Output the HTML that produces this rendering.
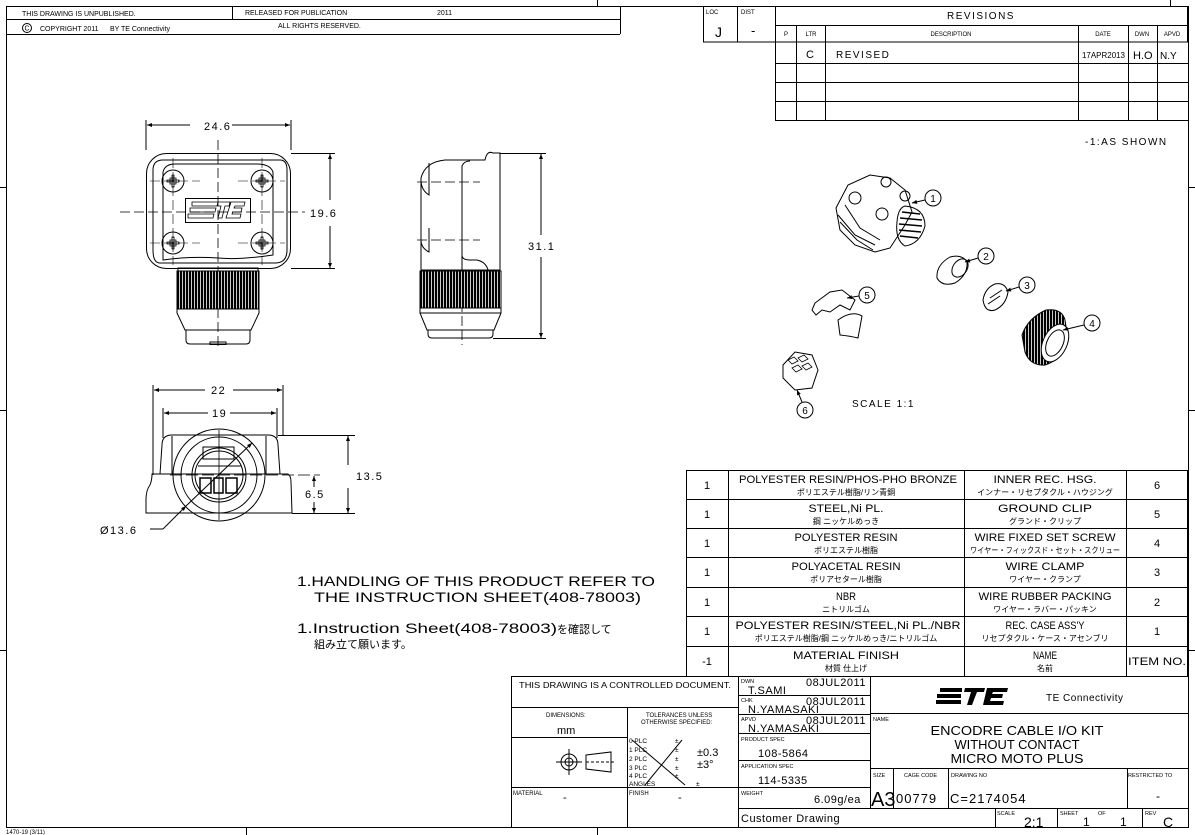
<!DOCTYPE html>
<html><head><meta charset="utf-8"><style>
html,body{margin:0;padding:0;background:#fff}
svg{display:block}
text{font-family:"Liberation Sans","Noto Sans CJK JP",sans-serif;fill:#000}
.t{font-size:8px}
.m{font-size:12px;letter-spacing:1.5px}
.j{font-size:9px;font-family:"Liberation Sans","Noto Sans CJK JP",sans-serif}
</style></head><body>
<svg width="1195" height="835" viewBox="0 0 1195 835" xmlns="http://www.w3.org/2000/svg">
<defs>
<pattern id="kn" width="3" height="10" patternUnits="userSpaceOnUse"><rect width="3" height="10" fill="#000"/><rect x="2" width="0.8" height="10" fill="#fff"/></pattern>
<marker id="a" viewBox="0 0 10 10" refX="10" refY="5" markerWidth="9" markerHeight="5" orient="auto-start-reverse"><path d="M0,1 L10,5 L0,9 z" fill="#000"/></marker>
</defs>
<g fill="none" stroke="#000" stroke-width="1">
<rect x="6.5" y="6.5" width="1182" height="821"/>
<line x1="597.5" y1="0" x2="597.5" y2="6"/><line x1="1170.5" y1="0" x2="1170.5" y2="6"/>
<line x1="0" y1="187.5" x2="6" y2="187.5"/><line x1="0" y1="410.5" x2="6" y2="410.5"/><line x1="0" y1="650.5" x2="6" y2="650.5"/>
<line x1="1189" y1="187.5" x2="1195" y2="187.5"/><line x1="1189" y1="410.5" x2="1195" y2="410.5"/><line x1="1189" y1="650.5" x2="1195" y2="650.5"/>
<line x1="597.5" y1="828" x2="597.5" y2="835"/><line x1="246.5" y1="828" x2="246.5" y2="835"/>
<line x1="6" y1="19.5" x2="620" y2="19.5"/><line x1="6" y1="34.5" x2="620" y2="34.5"/>
<line x1="620.5" y1="6" x2="620.5" y2="34"/><line x1="232.5" y1="6" x2="232.5" y2="19"/>
<circle cx="27" cy="28" r="4.5"/>
<rect x="703.5" y="6.5" width="484" height="35.5"/>
<line x1="737.5" y1="6" x2="737.5" y2="42"/><line x1="775.5" y1="6" x2="775.5" y2="120"/>
<line x1="775" y1="25.5" x2="1188" y2="25.5"/>
<line x1="775" y1="63.5" x2="1188" y2="63.5"/><line x1="775" y1="82.5" x2="1188" y2="82.5"/><line x1="775" y1="101.5" x2="1188" y2="101.5"/><line x1="775" y1="120.5" x2="1188" y2="120.5"/>
<line x1="796.5" y1="25" x2="796.5" y2="120"/><line x1="825.5" y1="25" x2="825.5" y2="120"/><line x1="1078.5" y1="25" x2="1078.5" y2="120"/><line x1="1128.5" y1="25" x2="1128.5" y2="120"/><line x1="1157.5" y1="25" x2="1157.5" y2="120"/>
<rect x="686.5" y="470.5" width="501" height="206"/>
<line x1="728.5" y1="470" x2="728.5" y2="676"/><line x1="964.5" y1="470" x2="964.5" y2="676"/><line x1="1126.5" y1="470" x2="1126.5" y2="676"/>
<line x1="686" y1="499.5" x2="1188" y2="499.5"/><line x1="686" y1="528.5" x2="1188" y2="528.5"/><line x1="686" y1="557.5" x2="1188" y2="557.5"/><line x1="686" y1="587.5" x2="1188" y2="587.5"/><line x1="686" y1="616.5" x2="1188" y2="616.5"/><line x1="686" y1="646.5" x2="1188" y2="646.5"/>
<rect x="511.5" y="676.5" width="677" height="151"/>
<line x1="511" y1="707.5" x2="738" y2="707.5"/>
<line x1="627.5" y1="707" x2="627.5" y2="828"/>
<line x1="511" y1="737.5" x2="627" y2="737.5"/>
<line x1="511" y1="787.5" x2="738" y2="787.5"/>
<line x1="738.5" y1="676" x2="738.5" y2="828"/>
<line x1="870.5" y1="676" x2="870.5" y2="808"/>
<line x1="738" y1="695.5" x2="870" y2="695.5"/><line x1="738" y1="714.5" x2="870" y2="714.5"/><line x1="738" y1="733.5" x2="870" y2="733.5"/><line x1="738" y1="760.5" x2="870" y2="760.5"/><line x1="738" y1="787.5" x2="870" y2="787.5"/>
<line x1="738" y1="808.5" x2="1189" y2="808.5"/>
<line x1="870" y1="713.5" x2="1189" y2="713.5"/><line x1="870" y1="768.5" x2="1189" y2="768.5"/>
<line x1="893.5" y1="768" x2="893.5" y2="808"/><line x1="948.5" y1="768" x2="948.5" y2="808"/><line x1="1127.5" y1="768" x2="1127.5" y2="808"/>
<line x1="995.5" y1="808" x2="995.5" y2="828"/><line x1="1057.5" y1="808" x2="1057.5" y2="828"/><line x1="1142.5" y1="808" x2="1142.5" y2="828"/>
<circle cx="569" cy="762" r="8"/><circle cx="569" cy="762" r="4"/><line x1="556" y1="762" x2="582" y2="762"/><line x1="569" y1="749" x2="569" y2="775"/>
<path d="M586,755 L611,752 L611,772 L586,769 Z"/><line x1="586" y1="762" x2="615" y2="762" stroke-dasharray="3,2"/>
<line x1="632" y1="740" x2="685" y2="785"/><line x1="682" y1="740" x2="645" y2="785"/>
<g fill="#000" stroke="none"><rect x="940" y="688" width="22" height="4"/><rect x="937" y="694" width="24" height="4"/><rect x="936" y="700" width="25" height="4"/>
<path d="M965,688 L985,688 L984,692 L977,692 L972,705 L967,705 L971,692 L964,692Z"/><path d="M987,688 L1008,688 L1007,692 L993,692 L992,694 L1003,694 L1002,698 L991,698 L990,701 L1004,701 L1003,705 L983,705Z"/></g>

<line x1="146" y1="120" x2="146" y2="150"/><line x1="291" y1="120" x2="291" y2="150"/>
<line x1="147" y1="125" x2="190" y2="125" marker-start="url(#a)"/><line x1="232" y1="125" x2="290" y2="125" marker-end="url(#a)"/>
<rect x="146.5" y="153.5" width="144" height="115" rx="20"/>
<path d="M153,250 L153,170 Q153,160 163,160 L280,160 Q287,160 287,170 L287,250 Q287,263 275,263 L160,263 Q153,263 153,250Z"/>
<path d="M163,260 L163,172 Q165,164 175,164 L257,164 Q270,164 273,172 L273,255 Q240,260 218,258 Q190,256 163,260Z"/>
<g><circle cx="173" cy="181" r="11"/><circle cx="262" cy="181" r="11"/><circle cx="173" cy="243" r="11"/><circle cx="262" cy="243" r="11"/></g>
<g stroke-width="0.8"><path d="M170,178h6v6h-6z M172,175h2v12h-2z M167,180h12v2h-12z"/><path d="M259,178h6v6h-6z M261,175h2v12h-2z M256,180h12v2h-12z"/><path d="M170,240h6v6h-6z M172,237h2v12h-2z M167,242h12v2h-12z"/><path d="M259,240h6v6h-6z M261,237h2v12h-2z M256,242h12v2h-12z"/></g>
<rect x="185.5" y="198.5" width="65" height="24"/>
<path d="M192,202h26l-1,4h-25z M190,208h26l-1,4h-25z M188,214h26l-1,4h-25z M218,202h12l-1,4h-4l-3,12h-4l3-12h-4z M231,202h14l-1,4h-9l-1,2h8l-1,4h-8l-1,2h9l-1,4h-14z" stroke-width="0.8"/>
<line x1="120" y1="212" x2="305" y2="212" stroke-dasharray="10,4" stroke-width="0.8"/>
<line x1="218" y1="140" x2="218" y2="350" stroke-dasharray="10,4" stroke-width="0.8"/>
<line x1="150" y1="181" x2="200" y2="181" stroke-dasharray="10,4" stroke-width="0.6"/><line x1="238" y1="181" x2="285" y2="181" stroke-dasharray="10,4" stroke-width="0.6"/>
<line x1="150" y1="243" x2="200" y2="243" stroke-dasharray="10,4" stroke-width="0.6"/><line x1="238" y1="243" x2="285" y2="243" stroke-dasharray="10,4" stroke-width="0.6"/>
<line x1="173" y1="158" x2="173" y2="265" stroke-dasharray="10,4" stroke-width="0.6"/><line x1="262" y1="158" x2="262" y2="265" stroke-dasharray="10,4" stroke-width="0.6"/>
<rect x="178" y="268" width="80" height="3"/>
<rect x="177" y="271" width="82" height="38" fill="url(#kn)"/>
<path d="M177,309 L259,309 L259,313 L251,330 L185,330 L177,313Z"/>
<path d="M186,330 L250,330 L250,340 Q250,344 246,344 L190,344 Q186,344 186,340Z"/>
<rect x="210" y="342" width="16" height="2.5"/>
<line x1="291" y1="153.5" x2="335" y2="153.5"/><line x1="291" y1="268.5" x2="335" y2="268.5"/>
<line x1="330" y1="154" x2="330" y2="200" marker-start="url(#a)"/><line x1="330" y1="226" x2="330" y2="268" marker-end="url(#a)"/>

<path d="M421,270 L421,178 Q425,162 445,160 L485,160 Q487,150 493,153 L500,153 L500,270 Z"/>
<path d="M462,270 L462,166 Q464,161 470,161"/>
<path d="M488,270 Q486,262 477,260 L470,260 Q462,260 462,255"/>
<path d="M429,163 L429,195 Q421,190 421,180"/><path d="M429,228 L429,252 Q421,248 421,240"/>
<line x1="417" y1="182" x2="480" y2="182" stroke-dasharray="10,4" stroke-width="0.8"/><line x1="417" y1="240" x2="480" y2="240" stroke-dasharray="10,4" stroke-width="0.8"/>
<line x1="462" y1="260" x2="462" y2="345" stroke-dasharray="10,4" stroke-width="0.8"/>
<rect x="420" y="271" width="81" height="37" fill="url(#kn)"/>
<path d="M420,308 L501,308 L501,313 L494,330 L427,330 L420,313Z"/><line x1="420" y1="313" x2="501" y2="313"/>
<path d="M428,330 L493,330 L493,334 Q493,338 489,338 L432,338 Q428,338 428,334Z"/>
<line x1="500" y1="153.5" x2="546" y2="153.5"/><line x1="493" y1="338.5" x2="546" y2="338.5"/>
<line x1="541" y1="154" x2="541" y2="235" marker-start="url(#a)"/><line x1="541" y1="257" x2="541" y2="338" marker-end="url(#a)"/>

<line x1="153" y1="385" x2="153" y2="475"/><line x1="283" y1="385" x2="283" y2="435"/>
<line x1="154" y1="390" x2="205" y2="390" marker-start="url(#a)"/><line x1="233" y1="390" x2="282" y2="390" marker-end="url(#a)"/>
<line x1="163" y1="408" x2="163" y2="438"/><line x1="277" y1="408" x2="277" y2="438"/>
<line x1="164" y1="413" x2="208" y2="413" marker-start="url(#a)"/><line x1="230" y1="413" x2="276" y2="413" marker-end="url(#a)"/>
<path d="M160,474 L162,445 Q162,435 172,435 L268,435 Q278,435 278,445 L280,474"/>
<line x1="172" y1="436" x2="172" y2="474"/><line x1="266" y1="436" x2="266" y2="474"/>
<path d="M152,474 L288,474 Q291,476 291,482 L292,513 L146,513 L146,500 Q146,490 150,485 Q152,480 152,474Z"/>
<circle cx="219" cy="475" r="46"/><circle cx="219" cy="475" r="38"/><circle cx="219" cy="475" r="27"/><circle cx="219" cy="475" r="24"/>
<rect x="203" y="447" width="31" height="12"/>
<line x1="198" y1="466" x2="241" y2="466"/>
<g stroke-width="1.5"><rect x="200" y="478" width="11" height="15"/><rect x="214" y="478" width="9" height="15"/><rect x="226" y="478" width="11" height="15"/></g>
<line x1="170" y1="475" x2="320" y2="475" stroke-dasharray="12,4" stroke-width="0.8"/>
<line x1="219" y1="430" x2="219" y2="520" stroke-width="0.8"/>
<line x1="292" y1="513.5" x2="355" y2="513.5"/><line x1="278" y1="435.5" x2="355" y2="435.5"/>
<line x1="348" y1="436" x2="348" y2="465" marker-start="url(#a)"/><line x1="348" y1="488" x2="348" y2="513" marker-end="url(#a)"/>
<line x1="314" y1="476" x2="314" y2="487" marker-start="url(#a)"/><line x1="314" y1="502" x2="314" y2="513" marker-end="url(#a)"/>
<line x1="150" y1="529" x2="163" y2="529"/><line x1="163" y1="529" x2="186" y2="506" marker-end="url(#a)"/><line x1="186" y1="506" x2="252" y2="443" marker-end="url(#a)"/>

<g stroke-width="1">
<path d="M836,208 L848,185 L870,175 L890,178 L905,190 L912,212 L905,225 L890,248 L875,252 L855,245 L840,230 Z"/>
<path d="M838,215 L855,235 L875,245 M840,222 L857,240 L873,250 M845,205 L860,228 L880,240"/>
<circle cx="855" cy="198" r="6"/><circle cx="882" cy="214" r="6"/><circle cx="886" cy="182" r="5"/><circle cx="905" cy="196" r="5"/>
<path d="M905,206 Q925,208 925,226 Q920,244 905,246 Q895,240 897,222 Q898,208 905,206Z"/>
<path d="M902,212 L920,214 M900,218 L922,220 M899,224 L922,226 M899,230 L921,232 M900,236 L918,238" stroke-width="1.5"/>
<path d="M937,278 Q936,265 950,257 Q962,254 967,262 Q968,275 955,283 Q942,287 937,278Z"/><ellipse cx="960" cy="268" rx="7" ry="10" transform="rotate(35 960 268)"/>
<path d="M983,300 Q985,288 995,284 Q1005,282 1008,292 Q1006,305 995,310 Q985,313 983,300Z"/><path d="M990,298 L1002,290 M988,304 L1000,296"/>
<path d="M1022,335 Q1028,318 1046,310 Q1062,308 1065,320 L1068,340 Q1062,360 1045,365 Q1030,366 1025,352 Z" fill="url(#kn)"/>
<ellipse cx="1055" cy="343" rx="12" ry="20" transform="rotate(25 1055 343)" fill="#fff"/><ellipse cx="1055" cy="343" rx="8" ry="14" transform="rotate(25 1055 343)"/>
<path d="M815,303 L830,292 L842,290 L855,300 L850,310 L840,305 L830,312 L822,310 L816,315 L812,310 Z"/>
<path d="M838,320 Q852,310 862,316 L858,338 Q850,336 840,335 Z"/>
<path d="M783,365 L795,352 L812,355 L818,370 L812,388 L795,390 L783,378 Z"/>
<path d="M788,360 l6,-3 l4,4 l-6,3z M798,358 l6,-3 l4,4 l-6,3z M792,368 l6,-3 l4,4 l-6,3z M802,366 l6,-3 l4,4 l-6,3z" stroke-width="0.8"/>
</g>
<g stroke-width="1">
<circle cx="933" cy="198" r="8"/><line x1="925" y1="200" x2="912" y2="203" marker-end="url(#a)"/>
<circle cx="986" cy="256" r="8"/><line x1="978" y1="258" x2="965" y2="262" marker-end="url(#a)"/>
<circle cx="1027" cy="285" r="8"/><line x1="1019" y1="287" x2="1006" y2="291" marker-end="url(#a)"/>
<circle cx="1092" cy="323" r="8"/><line x1="1084" y1="325" x2="1063" y2="330" marker-end="url(#a)"/>
<circle cx="867" cy="295" r="8"/><line x1="859" y1="296" x2="847" y2="298" marker-end="url(#a)"/>
<circle cx="805" cy="410" r="8"/><line x1="802" y1="402" x2="797" y2="390" marker-end="url(#a)"/>
</g>
</g>

<text class="t" x="22" y="16" style="font-size:7px">THIS DRAWING IS UNPUBLISHED.</text>
<text class="t" x="245" y="15" style="font-size:7px">RELEASED FOR PUBLICATION</text>
<text class="t" x="437" y="15" style="font-size:7px">2011</text>
<text class="t" x="24.5" y="30.5" style="font-size:7px">C</text>
<text class="t" x="40" y="31" style="font-size:7px">COPYRIGHT 2011</text>
<text class="t" x="110" y="31" style="font-size:7px">BY TE Connectivity</text>
<text class="t" x="278" y="28" style="font-size:7px">ALL RIGHTS RESERVED.</text>

<text class="t" x="706" y="14" style="font-size:6px">LOC</text><text class="t" x="741" y="14" style="font-size:6px">DIST</text>
<text x="715" y="37" style="font-size:14px">J</text><text x="751" y="35" style="font-size:13px">-</text>
<text x="981" y="19" class="m" text-anchor="middle" style="font-size:10px">REVISIONS</text>
<text class="t" x="786" y="36" text-anchor="middle" style="font-size:6px">P</text><text class="t" x="811" y="36" text-anchor="middle" style="font-size:6px">LTR</text>
<text class="t" x="951" y="36" text-anchor="middle" style="font-size:6px">DESCRIPTION</text><text class="t" x="1103" y="36" text-anchor="middle" style="font-size:6px">DATE</text>
<text class="t" x="1142" y="36" text-anchor="middle" style="font-size:6px">DWN</text><text class="t" x="1172" y="36" text-anchor="middle" style="font-size:6px">APVD</text>
<text x="806" y="58" style="font-size:11px">C</text><text x="836" y="58" class="m" style="font-size:10px">REVISED</text>
<text x="1082" y="58" style="font-size:8px" textLength="43" lengthAdjust="spacingAndGlyphs">17APR2013</text><text x="1133" y="59" style="font-size:11px">H.O</text><text x="1160" y="59" style="font-size:10px">N.Y</text>
<text x="1085" y="145" class="m" style="font-size:10px">-1:AS SHOWN</text>

<text class="m" x="204" y="130" style="font-size:11px">24.6</text>
<text class="m" x="310" y="217" style="font-size:11px">19.6</text>
<text class="m" x="528" y="250" style="font-size:11px">31.1</text>
<text class="m" x="211" y="394" style="font-size:11px">22</text>
<text class="m" x="212" y="417" style="font-size:11px">19</text>
<text class="m" x="356" y="480" style="font-size:11px">13.5</text>
<text class="m" x="305" y="498" style="font-size:11px">6.5</text>
<text class="m" x="100" y="534" style="font-size:11px">Ø13.6</text>

<text x="297" y="586" style="font-size:14px" textLength="358" lengthAdjust="spacingAndGlyphs">1.HANDLING OF THIS PRODUCT REFER TO</text>
<text x="314" y="602" style="font-size:14px" textLength="327" lengthAdjust="spacingAndGlyphs">THE INSTRUCTION SHEET(408-78003)</text>
<text x="297" y="633" style="font-size:14px" textLength="260" lengthAdjust="spacingAndGlyphs">1.Instruction Sheet(408-78003)</text>
<text class="j" x="557" y="633" style="font-size:11px">を確認して</text>
<text class="j" x="314" y="648" style="font-size:11px">組み立て願います。</text>

<text x="852" y="407" class="m" style="font-size:10px">SCALE  1:1</text>
<g text-anchor="middle" style="font-size:10px"><text x="933" y="202">1</text><text x="986" y="260">2</text><text x="1027" y="289">3</text><text x="1092" y="327">4</text><text x="867" y="299">5</text><text x="805" y="414">6</text></g>

<g text-anchor="middle">
<text x="707" y="489" style="font-size:11px">1</text><text x="707" y="518" style="font-size:11px">1</text><text x="707" y="547" style="font-size:11px">1</text><text x="707" y="576" style="font-size:11px">1</text><text x="707" y="606" style="font-size:11px">1</text><text x="707" y="635" style="font-size:11px">1</text><text x="707" y="665" style="font-size:11px">-1</text>
<text x="1157" y="489" style="font-size:11px">6</text><text x="1157" y="518" style="font-size:11px">5</text><text x="1157" y="547" style="font-size:11px">4</text><text x="1157" y="576" style="font-size:11px">3</text><text x="1157" y="606" style="font-size:11px">2</text><text x="1157" y="635" style="font-size:11px">1</text><text x="1157" y="665" style="font-size:11px" textLength="58" lengthAdjust="spacingAndGlyphs">ITEM NO.</text>
<g style="font-size:11px" lengthAdjust="spacingAndGlyphs">
<text x="848" y="483" textLength="218" lengthAdjust="spacingAndGlyphs">POLYESTER RESIN/PHOS-PHO BRONZE</text><text x="846" y="512" textLength="75" lengthAdjust="spacingAndGlyphs">STEEL,Ni PL.</text><text x="846" y="541" textLength="103" lengthAdjust="spacingAndGlyphs">POLYESTER RESIN</text><text x="846" y="570" textLength="109" lengthAdjust="spacingAndGlyphs">POLYACETAL RESIN</text><text x="846" y="600" textLength="20" lengthAdjust="spacingAndGlyphs">NBR</text><text x="848" y="629" textLength="225" lengthAdjust="spacingAndGlyphs">POLYESTER RESIN/STEEL,Ni PL./NBR</text><text x="846" y="659" textLength="106" lengthAdjust="spacingAndGlyphs">MATERIAL FINISH</text>
<text x="1045" y="483" textLength="103" lengthAdjust="spacingAndGlyphs">INNER REC. HSG.</text><text x="1045" y="512" textLength="94" lengthAdjust="spacingAndGlyphs">GROUND CLIP</text><text x="1045" y="541" textLength="141" lengthAdjust="spacingAndGlyphs">WIRE FIXED SET SCREW</text><text x="1045" y="570" textLength="79" lengthAdjust="spacingAndGlyphs">WIRE CLAMP</text><text x="1045" y="600" textLength="133" lengthAdjust="spacingAndGlyphs">WIRE RUBBER PACKING</text><text x="1045" y="629" textLength="79" lengthAdjust="spacingAndGlyphs">REC. CASE ASS'Y</text><text x="1045" y="659" textLength="24" lengthAdjust="spacingAndGlyphs">NAME</text>
</g>
<g class="j" style="font-size:8px">
<text x="846" y="495">ポリエステル樹脂/リン青銅</text><text x="846" y="524">鋼 ニッケルめっき</text><text x="846" y="553">ポリエステル樹脂</text><text x="846" y="582">ポリアセタール樹脂</text><text x="846" y="612">ニトリルゴム</text><text x="846" y="641">ポリエステル樹脂/鋼 ニッケルめっき/ニトリルゴム</text><text x="846" y="671">材質  仕上げ</text>
<text x="1045" y="495">インナー・リセプタクル・ハウジング</text><text x="1045" y="524">グランド・クリップ</text><text x="1045" y="553" textLength="150" lengthAdjust="spacingAndGlyphs">ワイヤー・フィックスド・セット・スクリュー</text><text x="1045" y="582">ワイヤー・クランプ</text><text x="1045" y="612">ワイヤー・ラバー・パッキン</text><text x="1045" y="641">リセプタクル・ケース・アセンブリ</text><text x="1045" y="671">名前</text>
</g>
</g>

<text x="519" y="688" style="font-size:8px" textLength="212" lengthAdjust="spacingAndGlyphs">THIS DRAWING IS A CONTROLLED DOCUMENT.</text>
<text x="546" y="717" style="font-size:6px">DIMENSIONS:</text><text x="557" y="734" style="font-size:11px">mm</text>
<text x="646" y="717" style="font-size:6px">TOLERANCES UNLESS</text><text x="641" y="724" style="font-size:6px">OTHERWISE SPECIFIED:</text>
<g style="font-size:6.5px"><text x="629" y="743">0 PLC</text><text x="629" y="752">1 PLC</text><text x="629" y="761">2 PLC</text><text x="629" y="770">3 PLC</text><text x="629" y="778">4 PLC</text><text x="629" y="786">ANGLES</text>
<text x="675" y="743">±</text><text x="675" y="752">±</text><text x="675" y="761">±</text><text x="675" y="770">±</text><text x="675" y="778">±</text><text x="696" y="786">±</text></g>
<text x="697" y="756" style="font-size:11px">±0.3</text><text x="697" y="768" style="font-size:11px">±3°</text>
<text x="513" y="795" style="font-size:6px">MATERIAL</text><text x="563" y="801" style="font-size:11px">-</text>
<text x="629" y="795" style="font-size:6px">FINISH</text><text x="678" y="801" style="font-size:11px">-</text>
<g style="font-size:5.5px"><text x="741" y="683">DWN</text><text x="741" y="702">CHK</text><text x="741" y="721">APVD</text><text x="741" y="741">PRODUCT SPEC</text><text x="741" y="768">APPLICATION SPEC</text><text x="741" y="795">WEIGHT</text><text x="873" y="721">NAME</text><text x="873" y="777">SIZE</text><text x="904" y="777">CAGE CODE</text><text x="951" y="777">DRAWING NO</text><text x="1128" y="777">RESTRICTED TO</text><text x="997" y="815">SCALE</text><text x="1060" y="815">SHEET</text><text x="1098" y="815">OF</text><text x="1145" y="815">REV</text></g>
<g style="font-size:11px;letter-spacing:0.5px">
<text x="806" y="686">08JUL2011</text><text x="748" y="694">T.SAMI</text>
<text x="806" y="705">08JUL2011</text><text x="748" y="713">N.YAMASAKI</text>
<text x="806" y="724">08JUL2011</text><text x="748" y="732">N.YAMASAKI</text>
<text x="758" y="757">108-5864</text><text x="758" y="784">114-5335</text>
<text x="814" y="803">6.09g/ea</text>
<text x="741" y="822">Customer Drawing</text>
</g>
<text x="1046" y="701" style="font-size:10px;letter-spacing:0.5px">TE Connectivity</text>
<g text-anchor="middle" style="font-size:13px"><text x="1017" y="735" textLength="173" lengthAdjust="spacingAndGlyphs">ENCODRE CABLE I/O KIT</text><text x="1017" y="749" textLength="125" lengthAdjust="spacingAndGlyphs">WITHOUT CONTACT</text><text x="1017" y="763" textLength="133" lengthAdjust="spacingAndGlyphs">MICRO MOTO PLUS</text></g>
<text x="871" y="806" style="font-size:20px">A3</text>
<text x="896" y="803" style="font-size:13px;letter-spacing:1px">00779</text>
<text x="950" y="803" style="font-size:13px;letter-spacing:1px">C=2174054</text>
<text x="1156" y="800" style="font-size:12px">-</text>
<text x="1024" y="827" style="font-size:14px">2:1</text>
<text x="1083" y="826" style="font-size:12px">1</text><text x="1120" y="826" style="font-size:12px">1</text>
<text x="1163" y="827" style="font-size:14px">C</text>
<text x="6" y="834" style="font-size:6px">1470-19 (3/11)</text>
</svg>
</body></html>
